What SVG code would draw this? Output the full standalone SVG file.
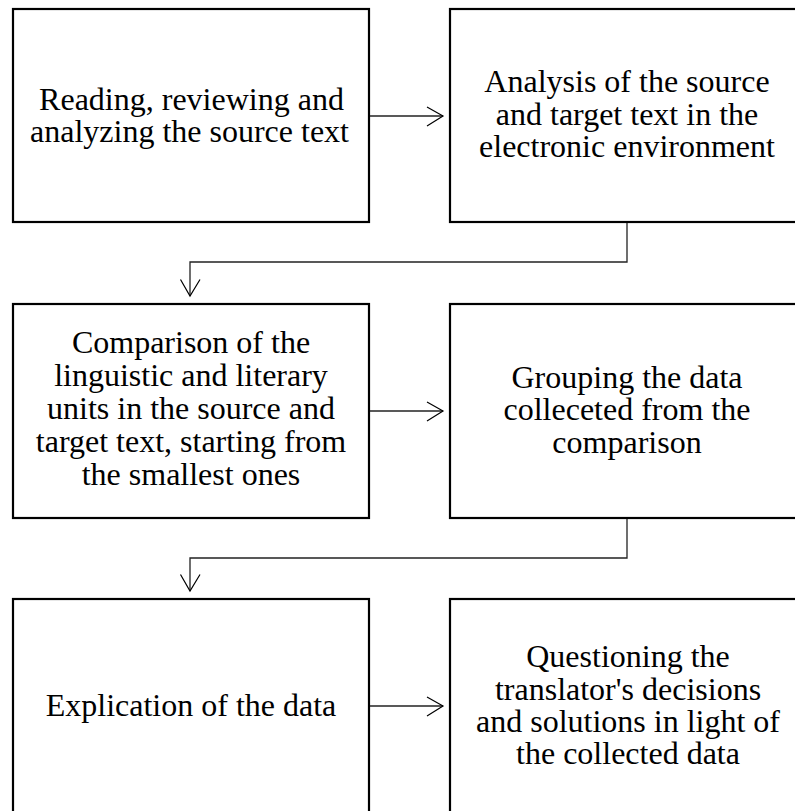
<svg xmlns="http://www.w3.org/2000/svg" width="795" height="811" viewBox="0 0 795 811">
<style>
.box{fill:#fff;stroke:#000;stroke-width:2.2}
.t{font-family:"Liberation Serif","Times New Roman",serif;font-size:32px;fill:#000;text-anchor:middle}
.c{fill:none;stroke:#222;stroke-width:1.3}
.h{fill:none;stroke:#000;stroke-width:1.2}
</style>
<rect width="795" height="811" fill="#fff"/>
<g id="n1"><rect class="box" x="13" y="9" width="356" height="213"/>
<text class="t" x="191.5" y="109.5">Reading, reviewing and</text>
<text class="t" x="189.5" y="141.5">analyzing the source text</text></g>
<g id="n2"><rect class="box" x="450" y="9" width="354" height="213"/>
<text class="t" x="627" y="92">Analysis of the source</text>
<text class="t" x="627" y="124.5">and target text in the</text>
<text class="t" x="627" y="157">electronic environment</text></g>
<g id="n3"><rect class="box" x="13" y="304" width="356" height="214"/>
<text class="t" x="191" y="353">Comparison of the</text>
<text class="t" x="191" y="386">linguistic and literary</text>
<text class="t" x="191" y="419">units in the source and</text>
<text class="t" x="191" y="452">target text, starting from</text>
<text class="t" x="191" y="485">the smallest ones</text></g>
<g id="n4"><rect class="box" x="450" y="304" width="354" height="214"/>
<text class="t" x="627" y="387.5">Grouping the data</text>
<text class="t" x="627" y="420">colleceted from the</text>
<text class="t" x="627" y="452.5">comparison</text></g>
<g id="n5"><rect class="box" x="13" y="599" width="356" height="214"/>
<text class="t" x="191" y="716">Explication of the data</text></g>
<g id="n6"><rect class="box" x="450" y="599" width="354" height="214"/>
<text class="t" x="628" y="667">Questioning the</text>
<text class="t" x="628" y="699.5">translator's decisions</text>
<text class="t" x="628" y="732">and solutions in light of</text>
<text class="t" x="628" y="764">the collected data</text></g>
<g id="connectors">
<path class="c" d="M370 116H443"/><path class="h" d="M427 107L443 116L427 126"/>
<path class="c" d="M627 223V262H190V296"/><path class="h" d="M180.5 279.5L190 296L200 279.5"/>
<path class="c" d="M370 411H443"/><path class="h" d="M427 402L443 411L427 421"/>
<path class="c" d="M627 519V558H190V591"/><path class="h" d="M180.5 574.5L190 591L200 574.5"/>
<path class="c" d="M370 706H443"/><path class="h" d="M427 697L443 706L427 716"/>
</g>
</svg>
